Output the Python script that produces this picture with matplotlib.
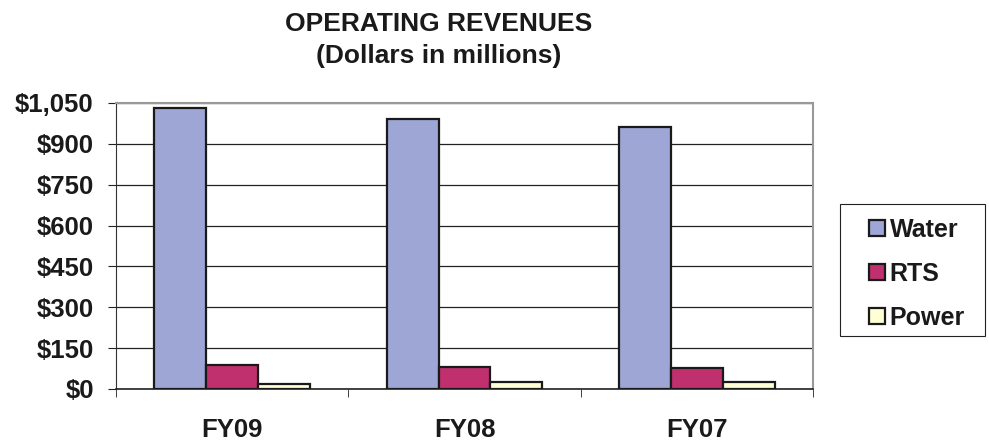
import matplotlib.pyplot as plt
from matplotlib.patches import Rectangle
import numpy as np

# ── Data ──────────────────────────────────────────────────────────────────────
years  = ["FY09", "FY08", "FY07"]
water  = [1031, 990, 962]
rts    = [87, 82, 78]
power  = [17, 24, 27]
yticks = [0, 150, 300, 450, 600, 750, 900, 1050]

series = [("Water", water, "#9DA6D4"),
          ("RTS",   rts,   "#C0306F"),
          ("Power", power, "#FFFFD6")]

plt.rcParams["font.family"] = ["Liberation Sans", "DejaVu Sans"]
W, H = 989, 442

fig = plt.figure(figsize=(W / 100, H / 100), dpi=100)
ax = fig.add_axes([116 / W, 1 - 389 / H, 697 / W, 286 / H])

x = np.arange(len(years))
width = 0.223
for i, (name, vals, color) in enumerate(series):
    ax.bar(x + (i - 1) * width, vals, width, color=color,
           edgecolor="#1a1a1a", linewidth=1.6, label=name, zorder=3)

ax.set_xlim(-0.5, len(years) - 0.5)
ax.set_ylim(0, 1050)
ax.set_yticks(yticks)
ax.set_yticklabels([f"${v:,}" for v in yticks], fontsize=18.5,
                   fontweight="bold", color="#1a1a1a")
ax.grid(axis="y", color="#222222", linewidth=0.9, zorder=0)

# category labels between boundary ticks
ax.set_xticks(x)
ax.set_xticklabels(years, fontsize=18.5, fontweight="bold", color="#1a1a1a")
ax.tick_params(axis="x", length=0, pad=21)
ax.set_xticks(np.arange(len(years) + 1) - 0.5, minor=True)
ax.tick_params(axis="x", which="minor", length=6, color="#222222")
ax.tick_params(axis="y", length=6, color="#222222", pad=10)

for side in ("top", "right"):
    ax.spines[side].set_color("#999999")
    ax.spines[side].set_linewidth(1.5)
ax.spines["left"].set_color("#333333")
ax.spines["bottom"].set_color("#222222")
ax.spines["bottom"].set_linewidth(1.2)

fig.text(439 / W, 1 - 24 / H, "OPERATING REVENUES", ha="center", va="center",
         fontsize=19, fontweight="bold", color="#1a1a1a")
fig.text(439 / W, 1 - 56 / H, "(Dollars in millions)", ha="center",
         va="center", fontsize=19, fontweight="bold", color="#1a1a1a")

# legend box (fixed size, like the spreadsheet one)
fig.patches.append(Rectangle((840 / W, 1 - 336 / H), 145 / W, 132 / H,
                             transform=fig.transFigure, fill=False,
                             edgecolor="#222222", linewidth=0.8))
leg = fig.legend(loc="upper left", bbox_to_anchor=(869 / W, 1 - 218 / H),
                 frameon=False, prop={"size": 18, "weight": "bold"},
                 handlelength=0.62, handleheight=0.62, handletextpad=0.2,
                 labelspacing=0.8, borderpad=0, borderaxespad=0)
for t in leg.get_texts():
    t.set_color("#1a1a1a")

fig.savefig("out.png", dpi=100)
